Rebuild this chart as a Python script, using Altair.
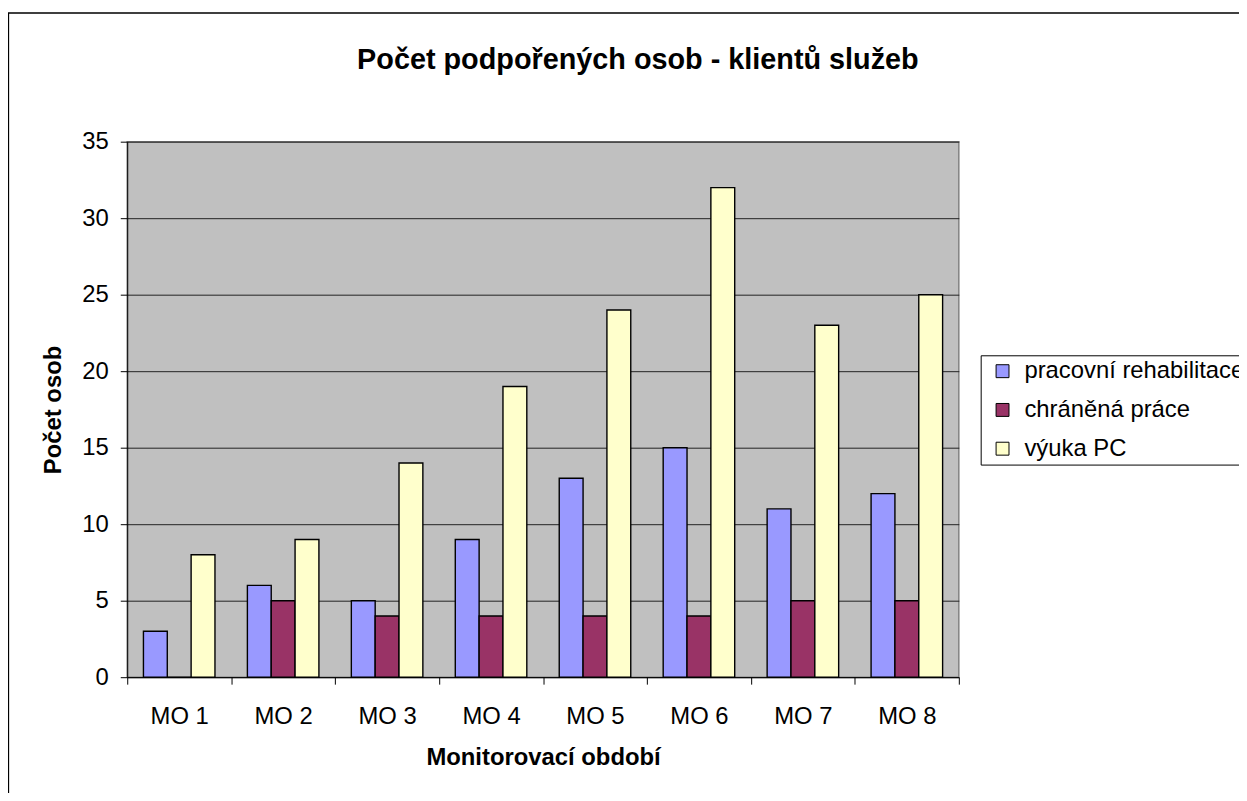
import altair as alt
import pandas as pd

title_text = "Počet podpořených osob - klientů služeb"
categories = ["MO 1", "MO 2", "MO 3", "MO 4", "MO 5", "MO 6", "MO 7", "MO 8"]
series = ["pracovní rehabilitace", "chráněná práce", "výuka PC"]
pracovni = [3, 6, 5, 9, 13, 15, 11, 12]
chranena = [0, 5, 4, 4, 4, 4, 5, 5]
vyuka = [8, 9, 14, 19, 24, 32, 23, 25]
colors = ["#9999FF", "#993366", "#FFFFCC"]
y_ticks = [0, 5, 10, 15, 20, 25, 30, 35]

rows = []
for name, vals in zip(series, [pracovni, chranena, vyuka]):
    for c, v in zip(categories, vals):
        rows.append({"obdobi": c, "serie": name, "pocet": v})
df = pd.DataFrame(rows)

FONT = "Liberation Sans"
W, H = 837, 539
PL, PT = 120, 132
TOTW, TOTH = 1239, 785

bars = alt.Chart(df).mark_bar(stroke="black", strokeWidth=1.4).encode(
    x=alt.X("obdobi:N", sort=categories,
            scale=alt.Scale(paddingInner=0, paddingOuter=0),
            axis=alt.Axis(title="Monitorovací období", labelAngle=0,
                          tickBand="extent", tickSize=7, tickColor="black",
                          domainColor="black", labelFontSize=24, labelFont=FONT,
                          labelColor="black", labelPadding=21,
                          titleFontSize=24, titleFont=FONT, titleFontWeight="bold",
                          titleColor="black", titlePadding=17)),
    xOffset=alt.XOffset("serie:N", sort=series,
                        scale=alt.Scale(paddingInner=0, paddingOuter=0.68)),
    y=alt.Y("pocet:Q", scale=alt.Scale(domain=[0, 35], nice=False),
            axis=alt.Axis(title="Počet osob", values=y_ticks, tickSize=7,
                          tickColor="black", domainColor="black",
                          labelFontSize=24, labelFont=FONT, labelColor="black",
                          labelPadding=12, grid=True, gridColor="#222222",
                          gridWidth=1, titleFontSize=24, titleFont=FONT,
                          titleFontWeight="bold", titleColor="black",
                          titlePadding=16)),
    color=alt.Color("serie:N", sort=series,
                    scale=alt.Scale(domain=series, range=colors),
                    legend=alt.Legend(title=None, orient="none",
                                      legendX=859, legendY=215,
                                      strokeColor="black", fillColor="white",
                                      padding=4, symbolOffset=6,
                                      symbolType="square", symbolSize=169,
                                      symbolStrokeColor="black",
                                      symbolStrokeWidth=1,
                                      labelFontSize=24, labelFont=FONT,
                                      labelColor="black", labelOffset=10,
                                      rowPadding=15, labelLimit=400)),
)

frame = alt.Chart(alt.Data(values=[{}])).mark_rect(
    fill="transparent", stroke="black", strokeWidth=1.3
).encode(
    x=alt.value(-PL + 0.5), x2=alt.value(TOTW + 200),
    y=alt.value(-PT + 2.5), y2=alt.value(TOTH + 200),
)

title = alt.Chart(alt.Data(values=[{}])).mark_text(
    text=title_text, font=FONT, fontSize=29, fontWeight="bold", color="black",
    align="center", baseline="alphabetic"
).encode(
    x=alt.value(642 - 128), y=alt.value(67 - 140),
)

chart = alt.layer(bars, frame, title).properties(
    width=W, height=H,
    autosize=alt.AutoSizeParams(type="none"),
    padding={"left": PL, "top": PT, "right": TOTW - PL - W, "bottom": TOTH - PT - H},
    background="white",
).configure_view(
    fill="#C0C0C0", stroke="#808080", strokeWidth=1.5
)

chart.save("out.html", embed_options={"renderer": "svg", "actions": False})
